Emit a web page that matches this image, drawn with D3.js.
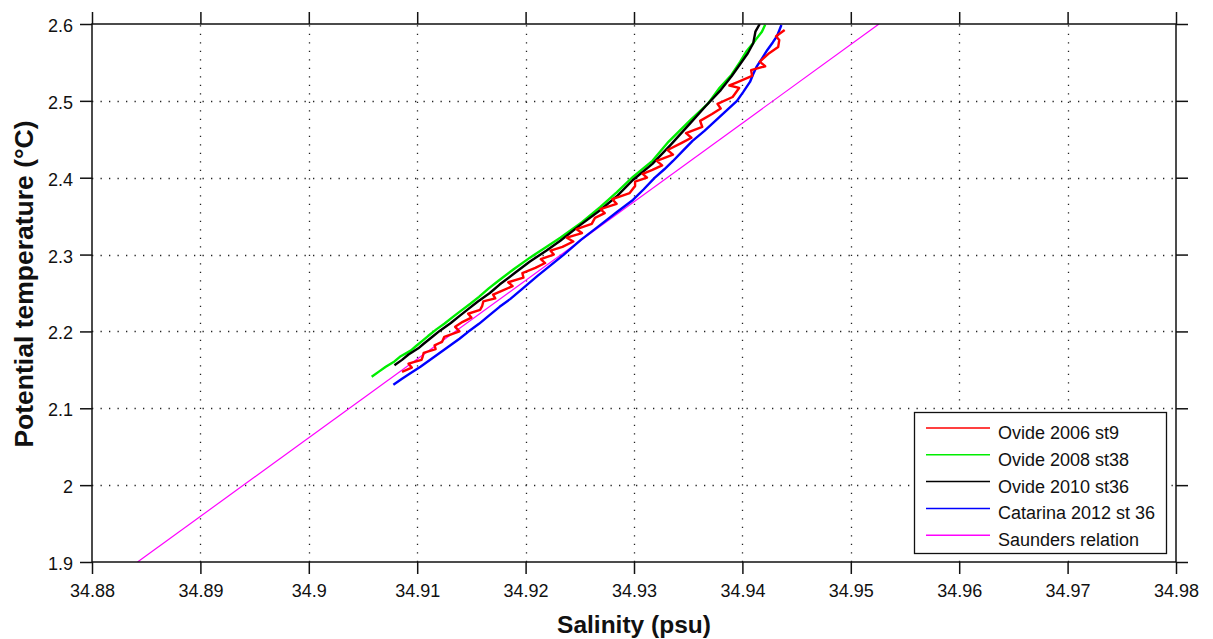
<!DOCTYPE html>
<html>
<head>
<meta charset="utf-8">
<script src="https://cdn.jsdelivr.net/npm/d3@7"></script>
<style>
  html, body { margin: 0; padding: 0; background: #fff; }
  svg { display: block; font-family: "Liberation Sans", Arial, sans-serif; }
</style>
</head>
<body>
<svg id="chart" width="1213" height="639"></svg>
<script>
// Axis ticks
const xTicks = [34.88, 34.89, 34.90, 34.91, 34.92, 34.93, 34.94, 34.95, 34.96, 34.97, 34.98];
const yTicks = [1.9, 2.0, 2.1, 2.2, 2.3, 2.4, 2.5, 2.6];

// Ovide 2006 st9 (salinity, potential temperature)
const ovide2006S = [34.9086, 34.9095, 34.9092, 34.9104, 34.9105, 34.9106, 34.9117, 34.9116, 34.9123, 34.9125,
  34.9139, 34.9135, 34.9142, 34.9150, 34.9147, 34.9158, 34.9160, 34.9161, 34.9172, 34.9170,
  34.9178, 34.9188, 34.9184, 34.9198, 34.9197, 34.9209, 34.9218, 34.9214, 34.9226, 34.9223,
  34.9234, 34.9244, 34.9238, 34.9252, 34.9247, 34.9261, 34.9264, 34.9273, 34.9269, 34.9284,
  34.9280, 34.9296, 34.9301, 34.9301, 34.9312, 34.9308, 34.9317, 34.9326, 34.9321, 34.9336,
  34.9331, 34.9344, 34.9353, 34.9348, 34.9363, 34.9361, 34.9372, 34.9380, 34.9377, 34.9391,
  34.9397, 34.9388, 34.9395, 34.9409, 34.9408, 34.9421, 34.9416, 34.9425, 34.9433, 34.9434,
  34.9431, 34.9439];
const ovide2006T = [2.1475, 2.153, 2.158, 2.163, 2.167, 2.172, 2.177, 2.182, 2.1865, 2.193,
  2.200, 2.206, 2.2125, 2.218, 2.223, 2.228, 2.2333, 2.239, 2.243, 2.248,
  2.2528, 2.259, 2.264, 2.270, 2.276, 2.2827, 2.289, 2.294, 2.300, 2.305,
  2.310, 2.317, 2.322, 2.328, 2.333, 2.340, 2.3477, 2.354, 2.359, 2.366,
  2.372, 2.380, 2.3893, 2.395, 2.400, 2.405, 2.4101, 2.416, 2.422, 2.430,
  2.436, 2.4453, 2.452, 2.458, 2.466, 2.474, 2.4830, 2.490, 2.496, 2.505,
  2.5168, 2.520, 2.524, 2.5324, 2.540, 2.545, 2.551, 2.5623, 2.570, 2.5792,
  2.584, 2.5922];

// Ovide 2008 st38
const ovide2008S = [34.9058, 34.9065, 34.9071, 34.9079, 34.9084, 34.9094, 34.9099, 34.9105, 34.9110, 34.9118,
  34.9125, 34.9133, 34.9139, 34.9149, 34.9157, 34.9166, 34.9175, 34.9189, 34.9204, 34.9218,
  34.9232, 34.9252, 34.9269, 34.9284, 34.9299, 34.9317, 34.9332, 34.9352, 34.9368, 34.9379,
  34.9390, 34.9398, 34.9404, 34.9412, 34.9418, 34.9421];
const ovide2008T = [2.141, 2.148, 2.154, 2.161, 2.167, 2.175, 2.181, 2.188, 2.194, 2.203,
  2.210, 2.219, 2.2255, 2.236, 2.245, 2.256, 2.266, 2.281, 2.296, 2.309,
  2.322, 2.342, 2.362, 2.381, 2.401, 2.422, 2.447, 2.475, 2.496, 2.517,
  2.534, 2.551, 2.565, 2.579, 2.590, 2.599];

// Ovide 2010 st36
const ovide2010S = [34.9079, 34.9086, 34.9092, 34.9101, 34.9106, 34.9114, 34.9121, 34.9131, 34.9138, 34.9147,
  34.9156, 34.9167, 34.9176, 34.9190, 34.9204, 34.9219, 34.9232, 34.9250, 34.9269, 34.9285,
  34.9299, 34.9317, 34.9334, 34.9352, 34.9366, 34.9380, 34.9390, 34.9398, 34.9405, 34.9410,
  34.9412, 34.9416];
const ovide2010T = [2.156, 2.163, 2.170, 2.178, 2.184, 2.193, 2.201, 2.211, 2.219, 2.229,
  2.239, 2.250, 2.261, 2.276, 2.291, 2.305, 2.318, 2.338, 2.358, 2.377,
  2.397, 2.418, 2.443, 2.471, 2.493, 2.514, 2.532, 2.548, 2.562, 2.575,
  2.590, 2.600];

// Catarina 2012 st 36
const catarinaS = [34.9078, 34.9086, 34.9093, 34.9103, 34.9112, 34.9121, 34.9130, 34.9139, 34.9147, 34.9157,
  34.9167, 34.9176, 34.9186, 34.9198, 34.9211, 34.9223, 34.9235, 34.9251, 34.9269, 34.9284,
  34.9299, 34.9309, 34.9319, 34.9328, 34.9336, 34.9345, 34.9354, 34.9365, 34.9375, 34.9385,
  34.9395, 34.9401, 34.9407, 34.9410, 34.9413, 34.9418, 34.9423, 34.9428, 34.9432, 34.9436];
const catarinaT = [2.1306, 2.1384, 2.1449, 2.1540, 2.1631, 2.1722, 2.1813, 2.1904, 2.1995, 2.2099,
  2.2216, 2.2320, 2.2424, 2.2567, 2.2723, 2.2860, 2.2996, 2.3191, 2.3386, 2.355,
  2.3711, 2.385, 2.3997, 2.411, 2.4218, 2.435, 2.4479, 2.461, 2.4739, 2.487,
  2.500, 2.512, 2.5246, 2.535, 2.5441, 2.555, 2.5662, 2.576, 2.5844, 2.5987];

// Saunders relation (straight line)
const saundersS = [34.8842, 34.9526];
const saundersT = [1.9, 2.6];

const seriesNames = ["Ovide 2006 st9", "Ovide 2008 st38", "Ovide 2010 st36", "Catarina 2012 st 36", "Saunders relation"];
const seriesColors = ["#ff0000", "#00ee00", "#000000", "#0000ff", "#ff00ff"];

const zip = (s, t) => s.map((v, i) => ({ s: v, t: t[i] }));
const series = [
  { name: seriesNames[0], color: seriesColors[0], data: zip(ovide2006S, ovide2006T), w: 2.4 },
  { name: seriesNames[1], color: seriesColors[1], data: zip(ovide2008S, ovide2008T), w: 2.4 },
  { name: seriesNames[2], color: seriesColors[2], data: zip(ovide2010S, ovide2010T), w: 2.4 },
  { name: seriesNames[3], color: seriesColors[3], data: zip(catarinaS, catarinaT), w: 2.4 },
  { name: seriesNames[4], color: seriesColors[4], data: zip(saundersS, saundersT), w: 1.2 }
];

const svg = d3.select("#chart");
const L = 92, R = 1176, T = 24, B = 562;

const x = d3.scaleLinear().domain([34.88, 34.98]).range([L, R]);
const y = d3.scaleLinear().domain([1.9, 2.6]).range([B, T]);

const fmtX = d => d3.format(".2f")(d).replace(/0$/, "");
const fmtY = d => (Math.round(d * 10) / 10).toString();

// Dotted grid
const grid = svg.append("g").attr("stroke", "#222").attr("stroke-width", 1.3)
  .attr("stroke-dasharray", "1.3,7.2");
grid.selectAll("line.gx").data(xTicks.slice(1, -1)).join("line")
  .attr("x1", d => Math.round(x(d)) + 0.5).attr("x2", d => Math.round(x(d)) + 0.5)
  .attr("y1", B).attr("y2", T);
grid.selectAll("line.gy").data(yTicks.slice(1, -1)).join("line")
  .attr("y1", d => Math.round(y(d)) + 0.5).attr("y2", d => Math.round(y(d)) + 0.5)
  .attr("x1", L).attr("x2", R);

// Data curves, clipped to the plot box
svg.append("clipPath").attr("id", "plotclip").append("rect")
  .attr("x", L).attr("y", T).attr("width", R - L).attr("height", B - T);
const line = d3.line().x(d => x(d.s)).y(d => y(d.t));
const drawOrder = [4, 1, 2, 3, 0];
svg.append("g").attr("clip-path", "url(#plotclip)")
  .selectAll("path").data(drawOrder.map(i => series[i])).join("path")
  .attr("d", d => line(d.data))
  .attr("fill", "none")
  .attr("stroke", d => d.color)
  .attr("stroke-width", d => d.w)
  .attr("stroke-linejoin", "round");

// Axes with outward ticks on all four sides
const axisStyle = g => {
  g.select(".domain").remove();
  g.selectAll(".tick line").attr("stroke", "#111").attr("stroke-width", 1.5);
  g.selectAll("text").attr("fill", "#111").attr("font-size", 18)
    .attr("font-family", "'Liberation Sans', Arial, sans-serif");
};
svg.append("g").attr("transform", `translate(0,${B})`)
  .call(d3.axisBottom(x).tickValues(xTicks).tickFormat(fmtX).tickSize(12).tickPadding(10))
  .call(axisStyle);
svg.append("g").attr("transform", `translate(0,${T})`)
  .call(d3.axisTop(x).tickValues(xTicks).tickFormat("").tickSize(12))
  .call(axisStyle);
svg.append("g").attr("transform", `translate(${L},0)`)
  .call(d3.axisLeft(y).tickValues(yTicks).tickFormat(fmtY).tickSize(12).tickPadding(7))
  .call(axisStyle)
  .selectAll("text").attr("dy", "0.42em");
svg.append("g").attr("transform", `translate(${R},0)`)
  .call(d3.axisRight(y).tickValues(yTicks).tickFormat("").tickSize(12))
  .call(axisStyle);

// Plot box
svg.append("rect").attr("x", L).attr("y", T).attr("width", R - L).attr("height", B - T)
  .attr("fill", "none").attr("stroke", "#111").attr("stroke-width", 1.5);

// Axis titles
svg.append("text").attr("x", (L + R) / 2).attr("y", 633)
  .attr("text-anchor", "middle").attr("font-weight", "bold").attr("font-size", 24.5)
  .attr("fill", "#111").text("Salinity (psu)");
svg.append("text").attr("transform", `translate(33,${(T + B) / 2 - 9}) rotate(-90)`)
  .attr("text-anchor", "middle").attr("font-weight", "bold").attr("font-size", 26.5)
  .attr("fill", "#111").text("Potential temperature (°C)");

// Legend
const lg = svg.append("g");
lg.append("rect").attr("x", 914.5).attr("y", 412.5).attr("width", 252).attr("height", 141)
  .attr("fill", "#fff").attr("stroke", "#111").attr("stroke-width", 1.3);
const rows = lg.selectAll("g.row").data(series).join("g")
  .attr("transform", (d, i) => `translate(0,${428 + i * 26.8})`);
rows.append("line").attr("x1", 926).attr("x2", 990).attr("y1", 0).attr("y2", 0)
  .attr("stroke", d => d.color).attr("stroke-width", 1.5);
rows.append("text").attr("x", 998).attr("y", 11).attr("font-size", 18).attr("fill", "#111")
  .text(d => d.name);
</script>
</body>
</html>
